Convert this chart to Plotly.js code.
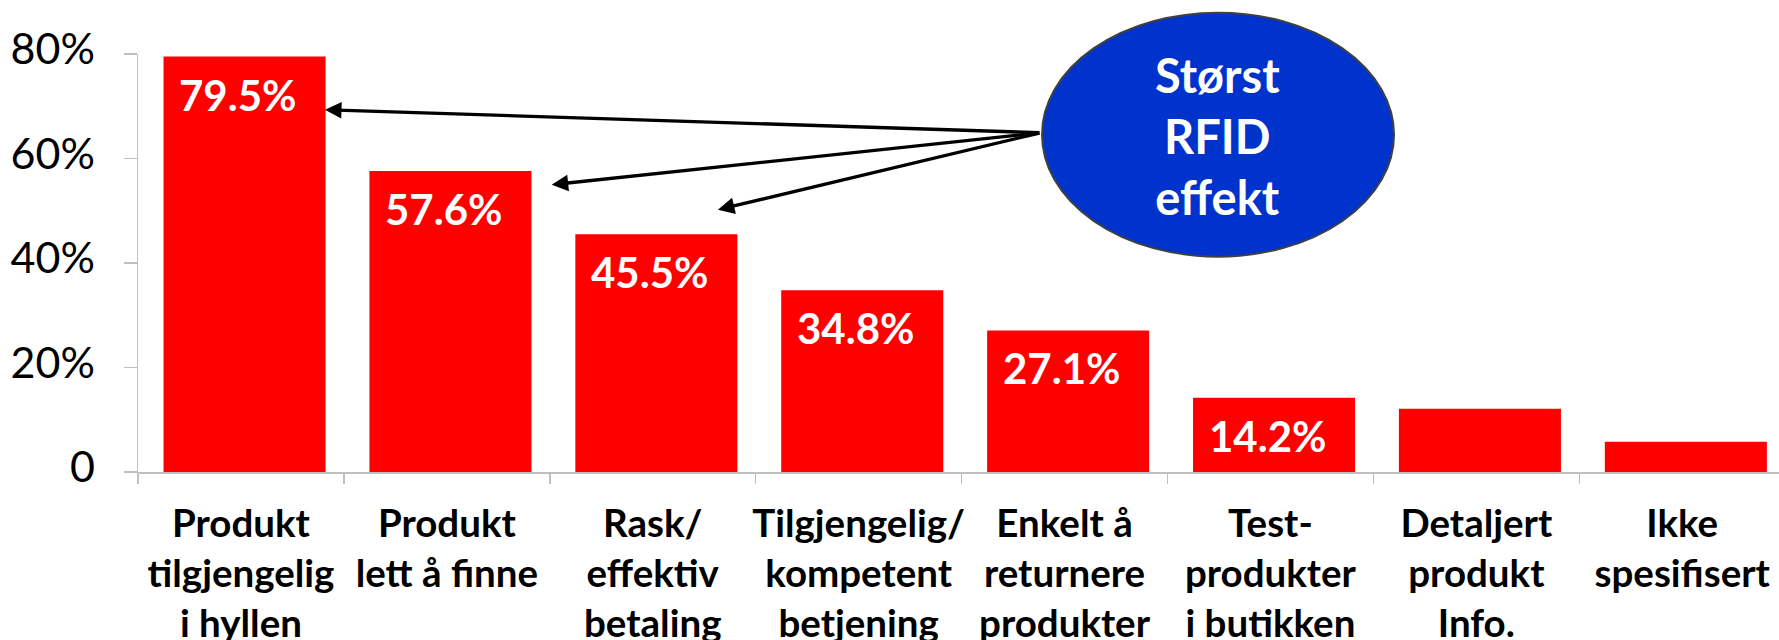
<!DOCTYPE html>
<html>
<head>
<meta charset="utf-8">
<script src="https://cdn.plot.ly/plotly-3.0.1.min.js"></script>
<style>
  html, body { margin: 0; padding: 0; background: #ffffff; }
  #chart { width: 1779px; height: 640px; }
</style>
</head>
<body>
<div id="chart"></div>
<script>
// ---- data ----
const categories = [
  'Produkt<br>tilgjengelig<br>i hyllen',
  'Produkt<br>lett å finne',
  'Rask/<br>effektiv<br>betaling',
  'Tilgjengelig/<br>kompetent<br>betjening',
  'Enkelt å<br>returnere<br>produkter',
  'Test-<br>produkter<br>i butikken',
  'Detaljert<br>produkt<br>Info.',
  'Ikke<br>spesifisert'
];
const values = [79.5, 57.6, 45.5, 34.8, 27.1, 14.2, 12.1, 5.8];
const valueLabels = ['79.5%', '57.6%', '45.5%', '34.8%', '27.1%', '14.2%', '', ''];
const yTickVals = [0, 20, 40, 60, 80];
const yTickText = ['0', '20%', '40%', '60%', '80%'];
const calloutText = 'Størst<br>RFID<br>effekt';

// ---- chart ----
const xIdx = categories.map((c, i) => i);

const trace = {
  type: 'bar',
  x: xIdx,
  y: values,
  width: 0.787,
  offset: -0.376,
  marker: { color: '#FF0000', line: { width: 0 } },
  hoverinfo: 'skip'
};

const annotations = [];
values.forEach((v, i) => {
  if (!valueLabels[i]) return;
  annotations.push({
    x: i, y: v, xref: 'x', yref: 'y',
    text: valueLabels[i], showarrow: false,
    xanchor: 'center', yanchor: 'middle', yshift: -38, xshift: -3,
    font: { family: 'Lato, "Open Sans", sans-serif', size: 42, color: '#FFFFFF', weight: 'bold' }
  });
});

// callout text
annotations.push({
  xref: 'paper', yref: 'paper', x: 0.6581, y: 0.805,
  text: calloutText, showarrow: false,
  xanchor: 'center', yanchor: 'middle',
  font: { family: 'Lato, "Open Sans", sans-serif', size: 47, color: '#FFFFFF', weight: 'bold' }
});

// arrows from callout to the top three bars
const arrowStyle = { showarrow: true, arrowhead: 2, arrowsize: 1, arrowwidth: 3.3, arrowcolor: '#000000', standoff: 0, startstandoff: 0, text: '' };
annotations.push(Object.assign({ xref: 'paper', yref: 'paper', x: 0.11395, y: 0.8667, axref: 'pixel', ayref: 'pixel', ax: 716, ay: 23 }, arrowStyle));
annotations.push(Object.assign({ xref: 'paper', yref: 'paper', x: 0.2521, y: 0.6873, axref: 'pixel', ayref: 'pixel', ax: 489, ay: -52 }, arrowStyle));
annotations.push(Object.assign({ xref: 'paper', yref: 'paper', x: 0.3534, y: 0.6275, axref: 'pixel', ayref: 'pixel', ax: 323, ay: -77 }, arrowStyle));

const layout = {
  width: 1779,
  height: 640,
  margin: { l: 138, r: 0, t: 54, b: 168, pad: 0 },
  paper_bgcolor: '#FFFFFF',
  plot_bgcolor: '#FFFFFF',
  showlegend: false,
  xaxis: {
    type: 'linear',
    range: [-0.5, 7.47],
    tickmode: 'array',
    tickvals: xIdx,
    ticktext: categories,
    showgrid: false,
    zeroline: false,
    showline: true,
    linecolor: '#BFBFBF',
    linewidth: 1.5,
    ticks: '',
    tickfont: { family: 'Lato, "Open Sans", sans-serif', size: 38.5, color: '#000000', weight: 'bold' },
    ticklabelstandoff: 17,
    fixedrange: true
  },
  xaxis2: {
    overlaying: 'x',
    matches: 'x',
    range: [-0.5, 7.47],
    tickmode: 'array',
    tickvals: [-0.5, 0.5, 1.5, 2.5, 3.5, 4.5, 5.5, 6.5],
    showticklabels: false,
    ticks: 'outside',
    ticklen: 11,
    tickwidth: 1.5,
    tickcolor: '#BFBFBF',
    showgrid: false,
    zeroline: false,
    showline: false,
    anchor: 'y'
  },
  yaxis: {
    range: [0, 80],
    tickmode: 'array',
    tickvals: yTickVals,
    ticktext: yTickText,
    showgrid: false,
    zeroline: false,
    showline: true,
    linecolor: '#BFBFBF',
    linewidth: 1.5,
    ticks: 'outside',
    ticklen: 13,
    tickwidth: 1.5,
    tickcolor: '#BFBFBF',
    tickfont: { family: 'Lato, "Open Sans", sans-serif', size: 43, color: '#000000' },
    ticklabelstandoff: 20,
    ticklabelshift: -5,
    fixedrange: true
  },
  shapes: [{
    type: 'circle', xref: 'paper', yref: 'paper',
    x0: 0.5509, x1: 0.7654, y0: 0.5151, y1: 1.0988,
    fillcolor: '#0033CC',
    line: { color: '#404040', width: 2 },
    layer: 'above'
  }],
  annotations: annotations
};

// invisible helper trace so the boundary-tick axis is drawn
const tickTrace = { type: 'scatter', x: [0], y: [0], xaxis: 'x2', yaxis: 'y', mode: 'markers', marker: { opacity: 0 }, hoverinfo: 'skip' };

Plotly.newPlot('chart', [trace, tickTrace], layout, { displayModeBar: false, staticPlot: true });
</script>
</body>
</html>
